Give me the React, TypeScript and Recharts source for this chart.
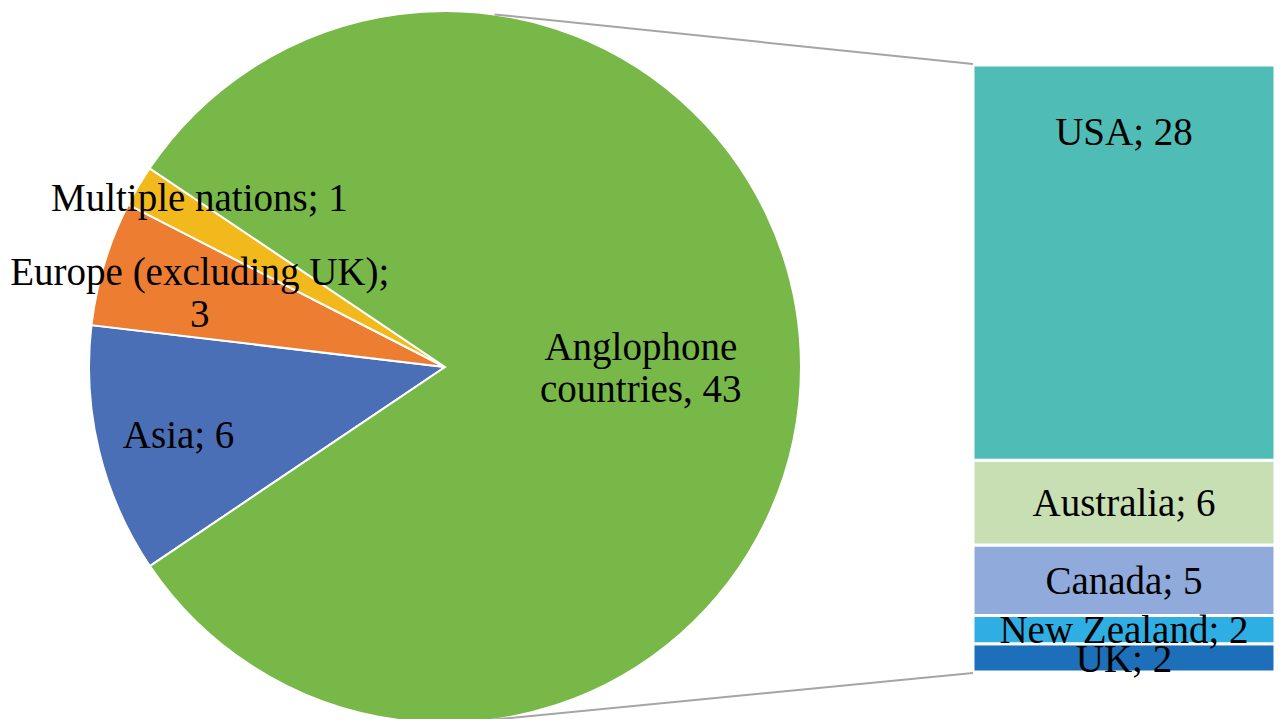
import React from "react";
import { PieChart, Pie, Cell, BarChart, Bar, XAxis, YAxis, LabelList } from "recharts";

// pie: where the studies came from
const regions = ["Asia", "Europe (excluding UK)", "Multiple nations", "Anglophone countries"];
const regionCounts = [6, 3, 1, 43];
const regionLines = [["Asia; 6"], ["Europe (excluding UK);", "3"], ["Multiple nations; 1"], ["Anglophone", "countries, 43"]];

// stacked bar: breakdown of the anglophone slice (bottom to top)
const countries = ["UK", "New Zealand", "Canada", "Australia", "USA"];
const countryCounts = [2, 2, 5, 6, 28];

const regionColors = ["#4A6FB6", "#ED7D31", "#F2B91C", "#78B848"];
const countryColors = ["#1C6FB8", "#2FAEE3", "#8FAADB", "#C8DFB4", "#4FBDB5"];
// how far out along the radius each slice label sits, plus a small nudge
const labelRadius = [0.77, 0.72, 0.84, 0.55];
const labelNudge = [[0, 2], [0, 0], [12, -18], [0, 0]];

const W = 1288;
const H = 727;
const CX = 445;
const CY = 367;
const R = 356;
const BAR = { left: 973, top: 65, width: 302, height: 607 };
const BAR_OVERHANG = 30;
const FONT = "'Liberation Serif', 'Times New Roman', serif";

const pieData = regions.map((name, i) => ({ name, value: regionCounts[i] }));
const barRow: Record<string, number | string> = { name: "Anglophone" };
countries.forEach((c, i) => (barRow[c] = countryCounts[i]));
const barData = [barRow];

const RAD = Math.PI / 180;

function renderSliceLabel(props: any) {
  const { cx, cy, midAngle, outerRadius, index } = props;
  const r = outerRadius * labelRadius[index];
  const x = cx + r * Math.cos(-midAngle * RAD) + labelNudge[index][0];
  const y = cy + r * Math.sin(-midAngle * RAD) + labelNudge[index][1];
  const lines = regionLines[index];
  const lh = 42;
  const y0 = y - ((lines.length - 1) * lh) / 2;
  return (
    <text
      key={index}
      x={x}
      y={y0}
      textAnchor="middle"
      dominantBaseline="central"
      style={{ fontFamily: FONT }}
      fontSize={39}
      fill="#000"
    >
      {lines.map((ln, j) => (
        <tspan key={j} x={x} y={y0 + j * lh}>
          {ln}
        </tspan>
      ))}
    </text>
  );
}

export default function App() {
  // connector lines from the pie edge to the bar corners
  const a = 82 * RAD;
  const topPt = { x: CX + R * Math.cos(a), y: CY - R * Math.sin(a) };
  const botPt = { x: CX + R * Math.cos(a), y: CY + R * Math.sin(a) };

  return (
    <div style={{ position: "relative", width: W, height: H, margin: -8, background: "#fff", overflow: "hidden" }}>
      <div style={{ position: "absolute", left: 0, top: 0 }}>
        <PieChart width={W} height={H} margin={{ top: 0, right: 0, bottom: 0, left: 0 }}>
          <Pie
            data={pieData}
            dataKey="value"
            nameKey="name"
            cx={CX}
            cy={CY}
            outerRadius={R}
            startAngle={214}
            endAngle={-146}
            stroke="#fff"
            strokeWidth={2}
            label={renderSliceLabel}
            labelLine={false}
            isAnimationActive={false}
          >
            {pieData.map((d, i) => (
              <Cell key={d.name} fill={regionColors[i]} />
            ))}
          </Pie>
        </PieChart>
      </div>

      <svg width={W} height={H} style={{ position: "absolute", left: 0, top: 0, pointerEvents: "none" }}>
        <line x1={topPt.x} y1={topPt.y} x2={BAR.left} y2={BAR.top - 1} stroke="#A5A5A5" strokeWidth={2} />
        <line x1={botPt.x} y1={botPt.y} x2={BAR.left} y2={BAR.top + BAR.height + 1} stroke="#A5A5A5" strokeWidth={2} />
      </svg>

      <div style={{ position: "absolute", left: BAR.left, top: BAR.top }}>
        <BarChart
          width={BAR.width}
          height={BAR.height + BAR_OVERHANG}
          data={barData}
          margin={{ top: 0, right: 0, bottom: BAR_OVERHANG, left: 0 }}
          barCategoryGap={0}
        >
          <XAxis dataKey="name" hide />
          <YAxis hide domain={[0, 43]} />
          {countries.map((c, i) => (
            <Bar
              key={c}
              dataKey={c}
              stackId="a"
              fill={countryColors[i]}
              stroke="#fff"
              strokeWidth={3}
              isAnimationActive={false}
            >
              <LabelList
                dataKey={c}
                position={c === "USA" ? "insideTop" : "center"}
                offset={c === "USA" ? 52 : 0}
                formatter={(v: any) => `${c}; ${v}`}
                fill="#000"
                fontSize={39}
                style={{ fontFamily: FONT }}
              />
            </Bar>
          ))}
        </BarChart>
      </div>
    </div>
  );
}
